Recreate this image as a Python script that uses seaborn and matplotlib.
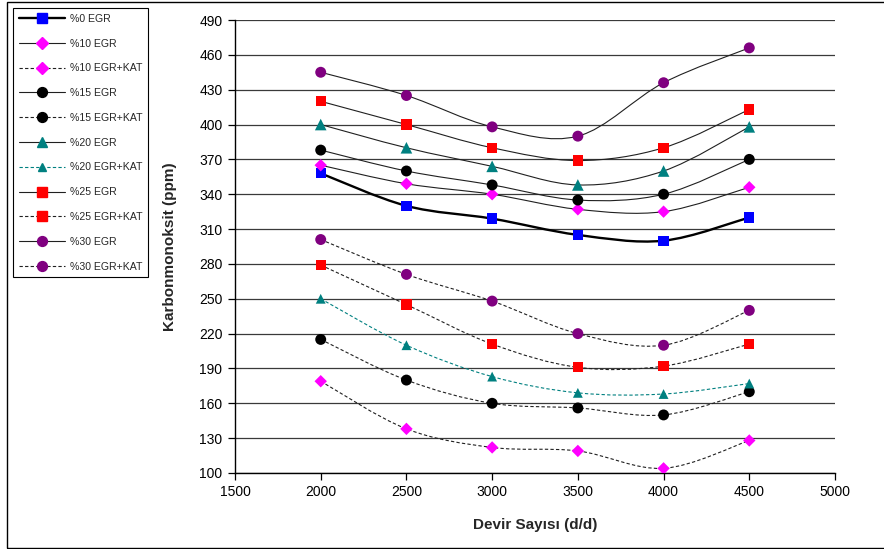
import numpy as np
import pandas as pd
import matplotlib
matplotlib.use("Agg")
import matplotlib.pyplot as plt
import seaborn as sns
from matplotlib.path import Path
from matplotlib.patches import PathPatch, Rectangle
from matplotlib.lines import Line2D

# Engine speed (rpm) and CO emissions (ppm) for each EGR rate, with and without catalyst
rpm = [2000, 2500, 3000, 3500, 4000, 4500]
egr0 = [358, 330, 319, 305, 300, 320]
egr10 = [365, 349, 340, 327, 325, 346]
egr10_kat = [179, 138, 122, 119, 104, 128]
egr15 = [378, 360, 348, 335, 340, 370]
egr15_kat = [215, 180, 160, 156, 150, 170]
egr20 = [400, 380, 364, 348, 360, 398]
egr20_kat = [250, 210, 183, 169, 168, 177]
egr25 = [420, 400, 380, 369, 380, 413]
egr25_kat = [279, 245, 211, 191, 192, 211]
egr30 = [445, 425, 398, 390, 436, 466]
egr30_kat = [301, 271, 248, 220, 210, 240]

labels = ["%0 EGR", "%10 EGR", "%10 EGR+KAT", "%15 EGR", "%15 EGR+KAT",
          "%20 EGR", "%20 EGR+KAT", "%25 EGR", "%25 EGR+KAT", "%30 EGR", "%30 EGR+KAT"]
values = [egr0, egr10, egr10_kat, egr15, egr15_kat, egr20, egr20_kat,
          egr25, egr25_kat, egr30, egr30_kat]

y_ticks = list(range(100, 491, 30))
x_ticks = list(range(1500, 5001, 500))

# style per series: marker, marker colour, marker size (pt^2), line colour, line width, dashed
styles = [
    ("s", "#0000FF", 55, "black", 1.7, False),
    ("D", "#FF00FF", 40, "#202020", 0.8, False),
    ("D", "#FF00FF", 40, "#202020", 0.8, True),
    ("o", "black", 62, "#202020", 0.8, False),
    ("o", "black", 62, "#202020", 0.8, True),
    ("^", "#008080", 70, "#202020", 0.8, False),
    ("^", "#008080", 50, "#008080", 0.8, True),
    ("s", "#FF0000", 55, "#202020", 0.8, False),
    ("s", "#FF0000", 55, "#202020", 0.8, True),
    ("o", "#800080", 62, "#202020", 0.8, False),
    ("o", "#800080", 62, "#202020", 0.8, True),
]

sns.set_style("white")
plt.rcParams["font.family"] = ["Liberation Sans", "DejaVu Sans"]

fig = plt.figure(figsize=(8.84, 5.49), dpi=100)
ax = fig.add_axes([235 / 884, 1 - 473 / 549, 600 / 884, 453 / 549])


def smooth_path(x, y):
    """Cubic Bezier path through the points (Catmull-Rom tangents)."""
    pts = np.column_stack([x, y]).astype(float)
    n = len(pts)
    verts = [pts[0]]
    codes = [Path.MOVETO]
    for i in range(n - 1):
        p0 = pts[max(i - 1, 0)]
        p1 = pts[i]
        p2 = pts[i + 1]
        p3 = pts[min(i + 2, n - 1)]
        verts += [p1 + (p2 - p0) / 6, p2 - (p3 - p1) / 6, p2]
        codes += [Path.CURVE4] * 3
    return Path(verts, codes)


handles = []
for lab, vals, (mk, mc, ms, lc, lw, dashed) in zip(labels, values, styles):
    ls = (0, (3, 2)) if dashed else "-"
    patch = PathPatch(smooth_path(rpm, vals), fill=False, edgecolor=lc,
                      linewidth=lw, linestyle=ls, zorder=2)
    ax.add_patch(patch)
    df = pd.DataFrame({"rpm": rpm, "co": vals})
    sns.scatterplot(data=df, x="rpm", y="co", marker=mk, s=ms, color=mc,
                    edgecolor="none", linewidth=0, ax=ax, zorder=3, legend=False)
    handles.append(Line2D([0], [0], color=lc, lw=lw, linestyle=ls, marker=mk,
                          markersize=np.sqrt(ms) * 0.9, markerfacecolor=mc,
                          markeredgecolor=mc, label=lab))

ax.set_xlim(1500, 5000)
ax.set_ylim(100, 490)
ax.set_xticks(x_ticks)
ax.set_yticks(y_ticks)
ax.grid(axis="y", color="#3a3a3a", linewidth=0.9)
ax.grid(axis="x", visible=False)
ax.set_axisbelow(True)
for side in ["top", "right"]:
    ax.spines[side].set_visible(False)
for side in ["left", "bottom"]:
    ax.spines[side].set_color("black")
    ax.spines[side].set_linewidth(1.0)
ax.tick_params(axis="both", direction="out", length=5, width=0.9, color="black",
               labelsize=10, labelcolor="black", pad=4, left=True, bottom=True)

ax.set_xlabel("Devir Sayısı (d/d)", fontsize=11, fontweight="bold", labelpad=13)
ax.set_ylabel("Karbonmonoksit (ppm)", fontsize=11, fontweight="bold", labelpad=16)

leg = fig.legend(handles=handles, loc="upper left",
                 bbox_to_anchor=(13 / 884, 1 - 8 / 549), borderaxespad=0,
                 frameon=True, fancybox=False, edgecolor="black", framealpha=1,
                 fontsize=7.6, handlelength=4.4, handletextpad=0.45,
                 labelspacing=1.4, borderpad=0.55)
leg.get_frame().set_linewidth(0.8)

# outer chart-area border
fig.add_artist(Rectangle((7 / 884, 1.5 / 549), 1.2, 545.5 / 549,
                         transform=fig.transFigure, fill=False,
                         edgecolor="black", linewidth=1.0, clip_on=False))

fig.savefig("out.png", dpi=100)
